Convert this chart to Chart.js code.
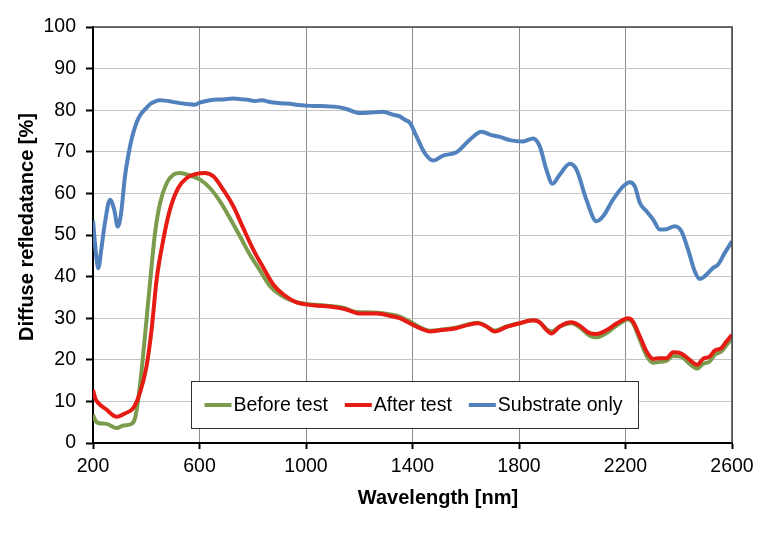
<!DOCTYPE html>
<html>
<head>
<meta charset="utf-8">
<script src="https://cdn.jsdelivr.net/npm/chart.js@4.4.1/dist/chart.umd.min.js"></script>
<style>
  html, body { margin: 0; padding: 0; background: #fff; }
  #graph-container { width: 768px; height: 536px; }
</style>
</head>
<body>
<div id="graph-container"><canvas id="myChart"></canvas></div>
<script>
// values
const beforeWl = [200,210,220,251,289,314,345,358,376,395,414,433,452,477,502,527,564,602,639,677,714,752,789,827,865,902,952,1002,1077,1140,1190,1252,1328,1352,1390,1428,1465,1503,1565,1609,1647,1678,1709,1753,1803,1853,1878,1903,1922,1953,1997,2028,2066,2091,2128,2166,2210,2228,2254,2279,2304,2329,2354,2379,2410,2441,2469,2491,2516,2535,2560,2579,2600];
const beforeVal = [6.8,5.3,4.8,4.6,3.6,4.2,4.6,6.0,13.6,25.6,38.5,50.5,57.7,62.5,64.5,64.9,64.3,63.3,61.3,58.1,54.1,49.7,45.3,41.5,37.7,35.7,34.1,33.4,33.0,32.5,31.5,31.4,30.8,30.4,29.2,27.8,27.0,27.2,27.8,28.5,28.9,28.0,27.0,28.0,28.8,29.5,29.0,27.4,26.8,28.0,28.8,27.8,25.8,25.4,26.4,28.2,29.7,28.8,24.8,21.0,19.3,19.5,19.8,20.9,20.7,19.0,17.9,19.0,19.6,21.2,22.0,23.5,25.2];

const afterWl = [200,210,220,251,289,320,351,376,401,420,439,464,489,520,552,589,620,652,689,727,764,802,840,877,915,965,1027,1102,1152,1202,1265,1328,1352,1390,1428,1465,1503,1565,1609,1647,1678,1709,1753,1803,1853,1878,1903,1922,1953,1997,2028,2066,2091,2128,2166,2210,2228,2254,2279,2304,2329,2354,2379,2410,2441,2469,2491,2516,2535,2560,2579,2600];
const afterVal = [12.8,10.5,9.6,8.0,6.3,7.1,8.4,12.0,18.4,27.2,39.3,48.9,56.1,61.3,63.7,64.7,64.9,64.1,60.9,56.9,51.7,46.5,42.1,38.1,35.7,33.8,33.1,32.7,32.1,31.1,31.1,30.4,30.0,28.8,27.6,26.8,27.1,27.6,28.4,28.8,28.0,26.8,27.9,28.8,29.5,29.0,27.2,26.3,28.0,29.0,28.2,26.4,26.2,27.1,28.7,30.0,29.2,25.6,22.0,20.2,20.4,20.4,21.8,21.5,20.0,18.8,20.2,20.8,22.2,22.8,24.4,26.0];

const substrateWl = [200,212,220,230,245,264,280,293,305,320,335,345,358,370,385,400,415,433,450,470,500,527,555,583,600,625,652,690,727,760,790,810,833,870,927,1002,1060,1115,1152,1202,1252,1290,1328,1352,1371,1390,1415,1446,1478,1515,1565,1615,1659,1697,1728,1765,1815,1853,1878,1903,1926,1953,1991,2016,2053,2091,2116,2153,2191,2216,2235,2254,2279,2304,2329,2354,2385,2410,2435,2460,2479,2498,2529,2548,2573,2600];
const substrateVal = [53.5,45,42,46,53,58.5,56,52,55,64,70,73,76,78,79.5,80.5,81.5,82.1,82.4,82.3,82,81.7,81.5,81.3,81.8,82.2,82.5,82.6,82.8,82.6,82.4,82.2,82.4,81.9,81.6,81.1,81.0,80.8,80.3,79.3,79.5,79.6,78.9,78.5,77.7,77.0,73.7,69.7,67.9,69.1,69.9,72.9,74.8,74.0,73.6,72.8,72.5,73.2,71.3,65.7,62.3,64.5,67.1,65.7,58.5,53.3,54.5,58.5,61.7,62.7,61.7,57.7,55.7,53.7,51.3,51.4,52.1,50.9,46.5,41.3,39.4,40.1,42.1,42.9,45.7,48.5];

const seriesLabels = ['Before test', 'After test', 'Substrate only'];
const seriesColors = ['#7b9c4c', '#e51b14', '#5282bd'];
const xTitle = 'Wavelength [nm]';
const yTitle = 'Diffuse refledatance [%]';

const FONT = "'Liberation Sans', Arial, sans-serif";

function toPoints(xs, ys) {
  return xs.map((x, i) => ({ x: x, y: ys[i] }));
}

// titles, legend box and the top/right frame drawn by hand
const extras = {
  id: 'extras',
  afterDraw(chart) {
    const ctx = chart.ctx;
    const a = chart.chartArea;
    ctx.save();

    ctx.strokeStyle = '#404040';
    ctx.lineWidth = 1.5;
    ctx.beginPath();
    ctx.moveTo(a.left, a.top);
    ctx.lineTo(a.right, a.top);
    ctx.lineTo(a.right, a.bottom);
    ctx.stroke();

    // axis titles
    ctx.fillStyle = '#000';
    ctx.font = 'bold 20px ' + FONT;
    ctx.textAlign = 'center';
    ctx.textBaseline = 'middle';
    ctx.fillText(xTitle, 438, 498);
    ctx.save();
    ctx.translate(27, 227);
    ctx.rotate(-Math.PI / 2);
    ctx.fillText(yTitle, 0, 0);
    ctx.restore();

    // legend
    ctx.font = '19.5px ' + FONT;
    const lineLen = 27, textGap = 2, itemGap = 17, padL = 13, padR = 16;
    let total = padL + padR;
    seriesLabels.forEach((l, i) => {
      total += lineLen + textGap + ctx.measureText(l).width;
      if (i < seriesLabels.length - 1) total += itemGap;
    });
    const boxLeft = Math.round((a.left + a.right) / 2 + 2 - total / 2) + 0.5;
    const boxTop = a.bottom - 61.5;
    const boxH = 47;
    ctx.fillStyle = '#fff';
    ctx.fillRect(boxLeft, boxTop, total, boxH);
    ctx.strokeStyle = '#303030';
    ctx.lineWidth = 1;
    ctx.strokeRect(boxLeft, boxTop, total, boxH);

    let x = boxLeft + padL;
    const cy = boxTop + boxH / 2;
    ctx.textAlign = 'left';
    seriesLabels.forEach((l, i) => {
      ctx.strokeStyle = seriesColors[i];
      ctx.lineWidth = 4;
      ctx.beginPath();
      ctx.moveTo(x, cy);
      ctx.lineTo(x + lineLen, cy);
      ctx.stroke();
      x += lineLen + textGap;
      ctx.fillStyle = '#000';
      ctx.fillText(l, x, cy + 1);
      x += ctx.measureText(l).width + itemGap;
    });
    ctx.restore();
  }
};

function createChart() {
  const ctx = document.getElementById('myChart');
  const lineDefaults = {
    borderWidth: 4,
    pointRadius: 0,
    fill: false,
    cubicInterpolationMode: 'monotone'
  };
  return new Chart(ctx, {
    type: 'line',
    data: {
      datasets: [
        Object.assign({ label: seriesLabels[0], data: toPoints(beforeWl, beforeVal), borderColor: seriesColors[0], order: 2 }, lineDefaults),
        Object.assign({ label: seriesLabels[1], data: toPoints(afterWl, afterVal), borderColor: seriesColors[1], order: 1 }, lineDefaults),
        Object.assign({ label: seriesLabels[2], data: toPoints(substrateWl, substrateVal), borderColor: seriesColors[2], order: 3 }, lineDefaults)
      ]
    },
    options: {
      responsive: true,
      maintainAspectRatio: false,
      animation: false,
      layout: { padding: { top: 27, right: 36, left: 0, bottom: 0 } },
      plugins: {
        legend: { display: false },
        tooltip: { enabled: false }
      },
      scales: {
        x: {
          type: 'linear',
          min: 200,
          max: 2600,
          afterFit: (scale) => { scale.height = 93; },
          ticks: {
            stepSize: 400,
            color: '#000',
            padding: 6,
            font: { family: FONT, size: 19.5 },
            callback: (v) => String(v)
          },
          grid: {
            color: '#8c8c8c',
            lineWidth: 1,
            tickLength: 6,
            tickColor: '#000',
            tickWidth: 2
          },
          border: { color: '#000', width: 2 }
        },
        y: {
          min: 0,
          max: 100,
          afterFit: (scale) => { scale.width = 93; },
          ticks: {
            stepSize: 10,
            color: '#000',
            padding: 10,
            font: { family: FONT, size: 19.5 }
          },
          grid: {
            color: '#c4c4c4',
            lineWidth: 1,
            tickLength: 7,
            tickColor: '#000',
            tickWidth: 2
          },
          border: { color: '#000', width: 2 }
        }
      }
    },
    plugins: [extras]
  });
}

createChart();
</script>
</body>
</html>
